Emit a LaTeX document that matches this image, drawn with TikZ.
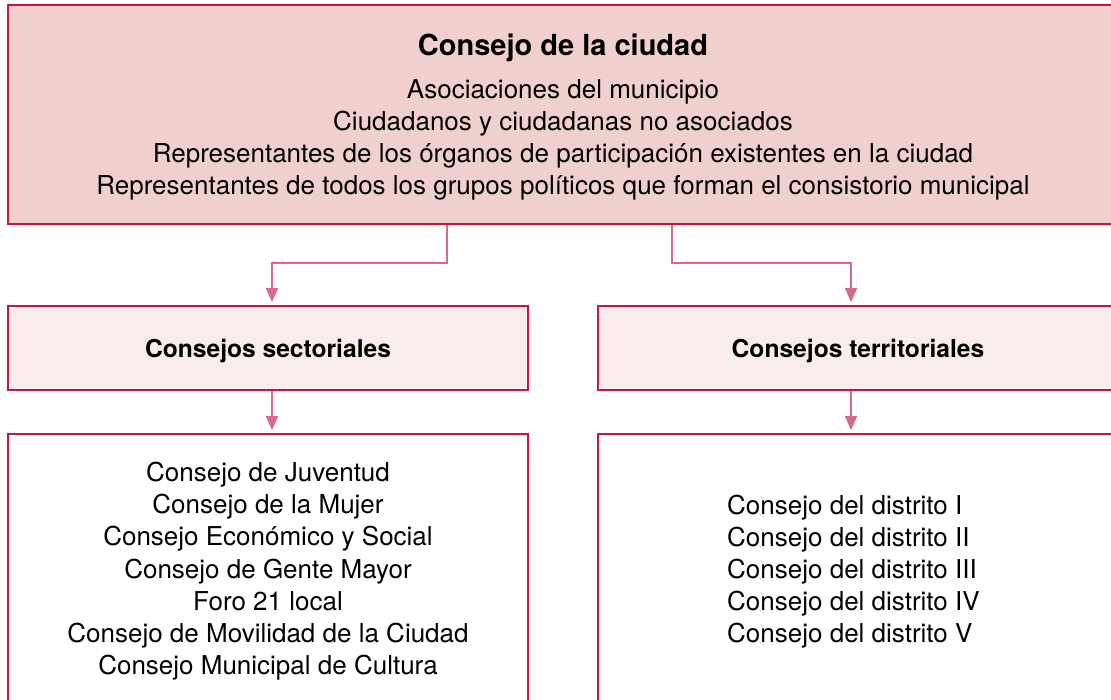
\documentclass[tikz,border=0pt]{standalone}
\usepackage{fontspec}
\setmainfont{TeX Gyre Heros}
\usetikzlibrary{arrows.meta,calc}
\definecolor{bord}{HTML}{C8163F}
\definecolor{arr}{HTML}{D66A87}
\definecolor{topfill}{HTML}{F0D0CD}
\definecolor{midfill}{HTML}{F9ECEC}
\tikzset{
  boxst/.style={draw=bord,line width=1.6pt,inner sep=0pt},
  reg/.style={font=\fontsize{26}{32}\selectfont,inner sep=0pt,anchor=base},
  ttl/.style={font=\fontsize{29}{34}\selectfont\bfseries,inner sep=0pt,anchor=base},
  sub/.style={font=\fontsize{24.6}{30}\selectfont\bfseries,inner sep=0pt,anchor=base},
  conn/.style={draw=arr,line width=1.4pt,-{Triangle[width=12pt,length=14pt]},shorten >=3pt},
}
\begin{document}
\begin{tikzpicture}[x=1pt,y=-1pt]
\useasboundingbox (0,0) rectangle (1111,699);
\clip (0,0) rectangle (1111,699);
\fill[white] (0,0) rectangle (1111,699);
% boxes
\node[boxst,fill=topfill,minimum width=1110pt,minimum height=219pt] (top) at (563,114.5) {};
\node[boxst,fill=midfill,minimum width=520pt,minimum height=84pt] (sec) at (268,348) {};
\node[boxst,fill=midfill,minimum width=520pt,minimum height=84pt] (ter) at (858,348) {};
\node[boxst,fill=white,minimum width=520pt,minimum height=268pt] (lst) at (268,568) {};
\node[boxst,fill=white,minimum width=520pt,minimum height=268pt] (dst) at (858,568) {};
% top texts
\node[ttl] (t0) at (563,55) {Consejo de la ciudad};
\node[reg] (t1) at (563,98) {Asociaciones del municipio};
\node[reg] (t2) at (563,130.3) {Ciudadanos y ciudadanas no asociados};
\node[reg] (t3) at (563,162.6) {Representantes de los órganos de participación existentes en la ciudad};
\node[reg] (t4) at (563,194.9) {Representantes de todos los grupos políticos que forman el consistorio municipal};
% sub titles
\node[sub] (s1) at (268,357.5) {Consejos sectoriales};
\node[sub] (s2) at (858,357.5) {Consejos territoriales};
% left list
\foreach \t [count=\i from 0] in {Consejo de Juventud,Consejo de la Mujer,Consejo Económico y Social,Consejo de Gente Mayor,Foro 21 local,Consejo de Movilidad de la Ciudad,Consejo Municipal de Cultura}
  \node[reg] (a\i) at (268,481.5+32.2*\i) {\t};
% right list
\foreach \t [count=\i from 0] in {Consejo del distrito I,Consejo del distrito II,Consejo del distrito III,Consejo del distrito IV,Consejo del distrito V}
  \node[reg,anchor=base west] (b\i) at (727,514+32.2*\i) {\t};
% connectors
\draw[conn] ([xshift=-116pt]top.south) -- ++(0,38) -| ([xshift=4pt]sec.north);
\draw[conn] ([xshift=109pt]top.south) -- ++(0,38) -| ([xshift=-7pt]ter.north);
\draw[conn] ([xshift=4pt]sec.south) -- ([xshift=4pt]lst.north);
\draw[conn] ([xshift=-7pt]ter.south) -- ([xshift=-7pt]dst.north);
\end{tikzpicture}
\end{document}
